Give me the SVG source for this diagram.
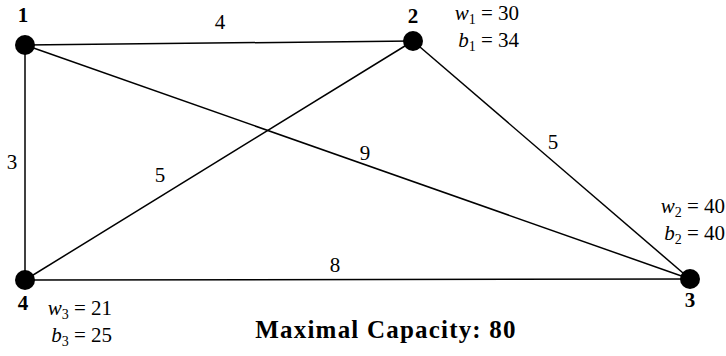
<svg xmlns="http://www.w3.org/2000/svg" width="726" height="356" viewBox="0 0 726 356">
<style>
.e{stroke:#000;stroke-width:1.5;fill:none}
.n{fill:#000}
.nl{font-family:"Liberation Serif","DejaVu Serif",serif;font-weight:bold;font-size:21px;text-anchor:middle}
.el{font-family:"Liberation Serif","DejaVu Serif",serif;font-size:21px;text-anchor:middle}
.m{font-family:"Liberation Serif","DejaVu Serif",serif;font-size:21px;text-anchor:end}
.i{font-style:italic}
.s{font-size:14px}
.t{font-family:"Liberation Serif","DejaVu Serif",serif;font-weight:bold;font-size:25px;letter-spacing:1.2px;text-anchor:middle}
</style>
<rect width="726" height="356" fill="#fff"/>
<g id="edges">
<line class="e" x1="25" y1="45" x2="413" y2="41"/>
<line class="e" x1="25" y1="45" x2="25" y2="280"/>
<line class="e" x1="25" y1="45" x2="690" y2="279"/>
<line class="e" x1="413" y1="41" x2="25" y2="280"/>
<line class="e" x1="413" y1="41" x2="690" y2="279"/>
<line class="e" x1="25" y1="280" x2="690" y2="279"/>
<text class="el" x="220" y="29">4</text>
<text class="el" x="12" y="169">3</text>
<text class="el" x="160" y="182">5</text>
<text class="el" x="365" y="160">9</text>
<text class="el" x="553" y="149">5</text>
<text class="el" x="335" y="272">8</text>
</g>
<g id="node1">
<circle class="n" cx="25" cy="45" r="10"/>
<text class="nl" x="23" y="22">1</text>
</g>
<g id="node2">
<circle class="n" cx="413" cy="41" r="10"/>
<text class="nl" x="413" y="23">2</text>
<text class="m" x="519" y="20"><tspan class="i">w</tspan><tspan class="s" dy="4">1</tspan><tspan dy="-4"> = 30</tspan></text>
<text class="m" x="519" y="47"><tspan class="i">b</tspan><tspan class="s" dy="4">1</tspan><tspan dy="-4"> = 34</tspan></text>
</g>
<g id="node3">
<circle class="n" cx="690" cy="279" r="10"/>
<text class="nl" x="690" y="307">3</text>
<text class="m" x="725" y="213"><tspan class="i">w</tspan><tspan class="s" dy="4">2</tspan><tspan dy="-4"> = 40</tspan></text>
<text class="m" x="725" y="240"><tspan class="i">b</tspan><tspan class="s" dy="4">2</tspan><tspan dy="-4"> = 40</tspan></text>
</g>
<g id="node4">
<circle class="n" cx="25" cy="280" r="10"/>
<text class="nl" x="23" y="310">4</text>
<text class="m" x="112" y="315"><tspan class="i">w</tspan><tspan class="s" dy="4">3</tspan><tspan dy="-4"> = 21</tspan></text>
<text class="m" x="112" y="342"><tspan class="i">b</tspan><tspan class="s" dy="4">3</tspan><tspan dy="-4"> = 25</tspan></text>
</g>
<text class="t" x="386" y="338">Maximal Capacity: 80</text>
</svg>
